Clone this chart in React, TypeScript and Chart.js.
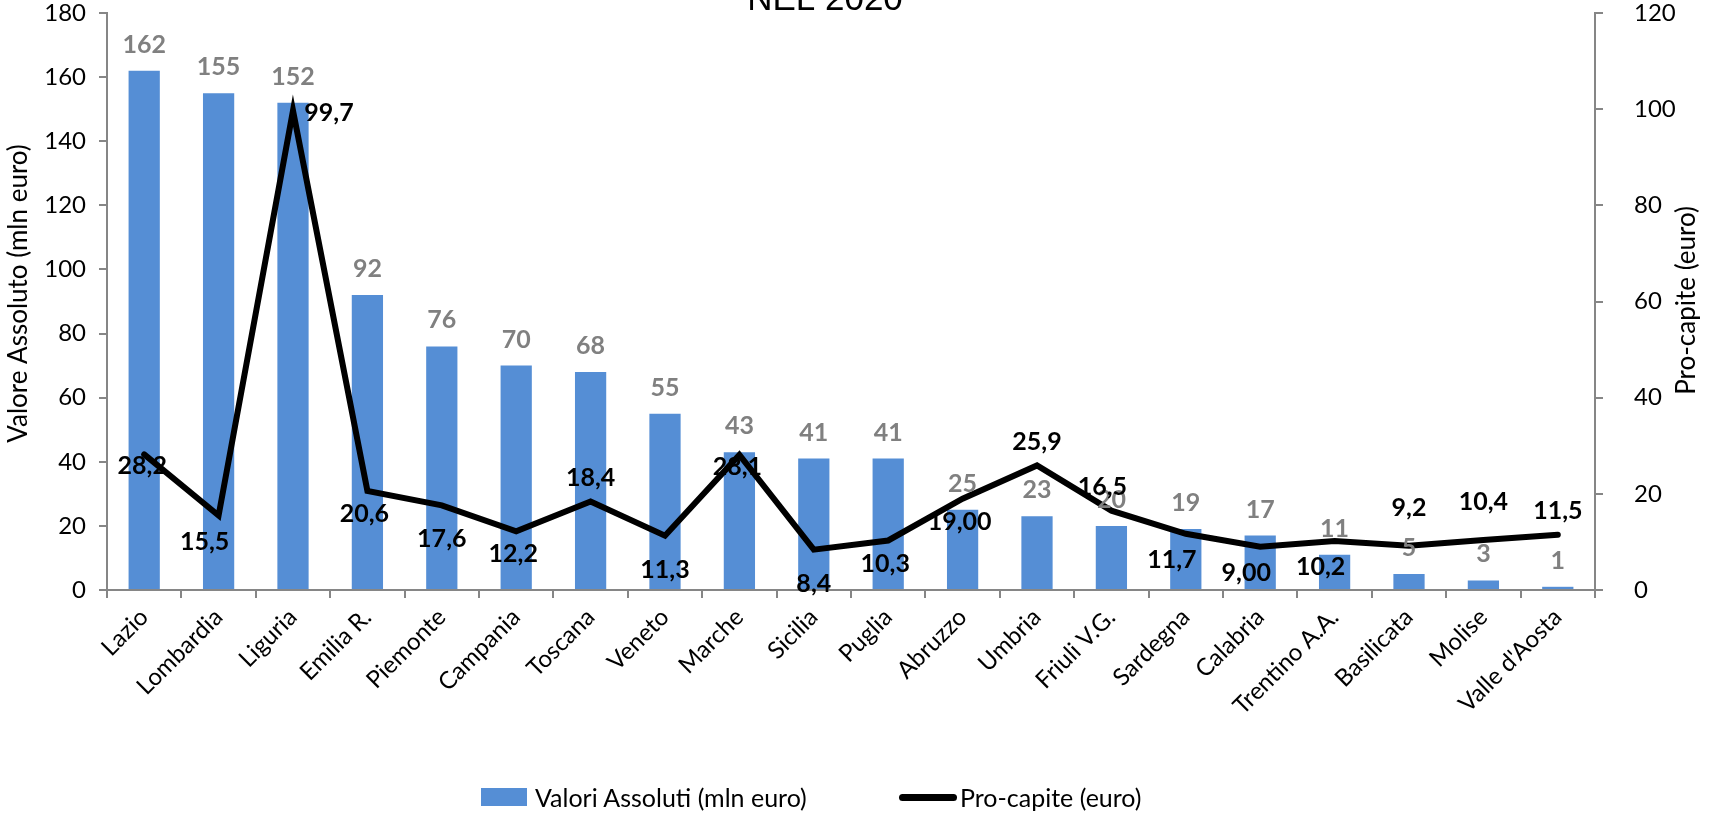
import React, { useEffect, useRef } from "react";
import { Chart, registerables } from "chart.js";

Chart.register(...registerables);

const chartTitle = "NEL 2020";
const categories = [
  "Lazio", "Lombardia", "Liguria", "Emilia R.", "Piemonte", "Campania", "Toscana",
  "Veneto", "Marche", "Sicilia", "Puglia", "Abruzzo", "Umbria", "Friuli V.G.",
  "Sardegna", "Calabria", "Trentino A.A.", "Basilicata", "Molise", "Valle d'Aosta",
];
const barLabel = "Valori Assoluti (mln euro)";
const lineLabel = "Pro-capite (euro)";
const valoriAssoluti = [162, 155, 152, 92, 76, 70, 68, 55, 43, 41, 41, 25, 23, 20, 19, 17, 11, 5, 3, 1];
const proCapite = [28.2, 15.5, 99.7, 20.6, 17.6, 12.2, 18.4, 11.3, 28.1, 8.4, 10.3, 19.0, 25.9, 16.5, 11.7, 9.0, 10.2, 9.2, 10.4, 11.5];
const proCapiteText = ["28,2", "15,5", "99,7", "20,6", "17,6", "12,2", "18,4", "11,3", "28,1", "8,4", "10,3", "19,00", "25,9", "16,5", "11,7", "9,00", "10,2", "9,2", "10,4", "11,5"];
// label placement style for the line labels
const proCapitePlacement = [
  "on", "belowLeft", "right", "below", "belowFar", "below", "above", "belowFar", "on", "belowFar",
  "below", "below", "above", "aboveLeft", "belowLeft", "belowLeft", "belowLeft", "aboveFar", "aboveFar", "above",
];
const leftAxisTitle = "Valore Assoluto (mln euro)";
const rightAxisTitle = "Pro-capite (euro)";
const leftMax = 180;
const rightMax = 120;
const tickStep = 20;

const BLUE = "#558ED5";
const AXIS = "#868686";
const FONT = "Lato";

const placementOffsets: Record<string, [number, number]> = {
  on: [-2, 12],
  below: [-3, 23],
  belowFar: [0, 34],
  belowLeft: [-14, 26],
  above: [0, -24],
  aboveFar: [0, -38],
  aboveLeft: [-9, -24],
  right: [36, 2],
};

const labelsPlugin = {
  id: "valueLabels",
  afterDatasetsDraw(chart: any) {
    const ctx = chart.ctx;
    ctx.save();
    const barMeta = chart.getDatasetMeta(0);
    ctx.font = `bold 25px ${FONT}`;
    ctx.fillStyle = "#808080";
    ctx.textAlign = "center";
    ctx.textBaseline = "middle";
    barMeta.data.forEach((el: any, i: number) => {
      ctx.fillText(String(valoriAssoluti[i]), el.x, el.y - 26);
    });
    const lineMeta = chart.getDatasetMeta(1);
    ctx.font = `bold 25px ${FONT}`;
    ctx.fillStyle = "#000";
    lineMeta.data.forEach((el: any, i: number) => {
      const [dx, dy] = placementOffsets[proCapitePlacement[i]] || [0, 0];
      ctx.fillText(proCapiteText[i], el.x + dx, el.y + dy);
    });
    ctx.restore();
  },
  afterDraw(chart: any) {
    const ctx = chart.ctx;
    const { left, right, top, bottom } = chart.chartArea;
    const midY = (top + bottom) / 2;
    ctx.save();
    ctx.fillStyle = "#000";
    ctx.textAlign = "center";
    ctx.textBaseline = "middle";
    ctx.font = `26px ${FONT}`;
    ctx.translate(left - 88, midY - 8);
    ctx.rotate(-Math.PI / 2);
    ctx.fillText(leftAxisTitle, 0, 0);
    ctx.restore();
    ctx.save();
    ctx.fillStyle = "#000";
    ctx.textAlign = "center";
    ctx.textBaseline = "middle";
    ctx.font = `26px ${FONT}`;
    ctx.translate(right + 92, midY - 1);
    ctx.rotate(-Math.PI / 2);
    ctx.fillText(rightAxisTitle, 0, 0);
    ctx.restore();
    ctx.save();
    ctx.fillStyle = "#000";
    ctx.textAlign = "center";
    ctx.textBaseline = "alphabetic";
    ctx.font = `35px "Liberation Sans"`;
    ctx.fillText(chartTitle, (left + right) / 2 - 26, 10);
    ctx.restore();
  },
};

function zeroPad(scale: any) {
  scale.paddingTop = 0;
  scale.paddingBottom = 0;
  scale.paddingLeft = 0;
  scale.paddingRight = 0;
}

export default function App() {
  const ref = useRef<HTMLCanvasElement | null>(null);
  useEffect(() => {
    if (!ref.current) return;
    const chart = new Chart(ref.current, {
      type: "bar",
      data: {
        labels: categories,
        datasets: [
          {
            type: "bar",
            label: barLabel,
            data: valoriAssoluti,
            backgroundColor: BLUE,
            yAxisID: "y",
            order: 2,
            categoryPercentage: 1,
            barPercentage: 0.42,
          },
          {
            type: "line",
            label: lineLabel,
            data: proCapite,
            borderColor: "#000",
            borderWidth: 6,
            pointRadius: 0,
            borderCapStyle: "round",
            tension: 0,
            fill: false,
            yAxisID: "y1",
            order: 1,
          } as any,
        ],
      },
      options: {
        responsive: false,
        animation: false,
        layout: { padding: { top: 13, left: 0, right: 0, bottom: 0 } },
        plugins: {
          legend: { display: false },
          tooltip: { enabled: false },
          title: { display: false },
        },
        scales: {
          x: {
            grid: { display: true, drawOnChartArea: false, offset: true, tickLength: 8, color: AXIS, lineWidth: 2 },
            border: { color: AXIS, width: 2 },
            ticks: {
              autoSkip: false,
              minRotation: 45,
              maxRotation: 45,
              padding: 5,
              color: "#000",
              font: { family: FONT, size: 24 },
            },
            afterFit(scale: any) {
              scale.height = 226;
              zeroPad(scale);
            },
          },
          y: {
            position: "left",
            min: 0,
            max: leftMax,
            ticks: { stepSize: tickStep, padding: 13, color: "#000", font: { family: FONT, size: 24 } },
            grid: { drawOnChartArea: false, tickLength: 8, color: AXIS, lineWidth: 2 },
            border: { color: AXIS, width: 2 },
            afterFit(scale: any) {
              scale.width = 107;
              zeroPad(scale);
            },
          },
          y1: {
            position: "right",
            min: 0,
            max: rightMax,
            ticks: { stepSize: tickStep, padding: 31, color: "#000", font: { family: FONT, size: 24 } },
            grid: { drawOnChartArea: false, tickLength: 8, color: AXIS, lineWidth: 2 },
            border: { color: AXIS, width: 2 },
            afterFit(scale: any) {
              scale.width = 115;
              zeroPad(scale);
            },
          },
        },
      } as any,
      plugins: [labelsPlugin],
    });
    return () => chart.destroy();
  }, []);

  const legendText: React.CSSProperties = { font: `25px ${FONT}`, color: "#000", whiteSpace: "nowrap" };
  return (
    <div style={{ position: "fixed", left: 0, top: 0, width: 1710, height: 816, background: "#fff" }}>
      <canvas ref={ref} width={1710} height={816} style={{ display: "block", width: 1710, height: 816 }} />
      <div style={{ position: "absolute", left: 481, top: 781, height: 32, display: "flex", alignItems: "center" }}>
        <span style={{ display: "inline-block", width: 46, height: 18, background: BLUE, marginRight: 8 }} />
        <span style={legendText}>{barLabel}</span>
      </div>
      <div style={{ position: "absolute", left: 899, top: 781, height: 32, display: "flex", alignItems: "center" }}>
        <span style={{ display: "inline-block", width: 58, height: 7, background: "#000", borderRadius: 4, marginRight: 3 }} />
        <span style={legendText}>{lineLabel}</span>
      </div>
    </div>
  );
}
